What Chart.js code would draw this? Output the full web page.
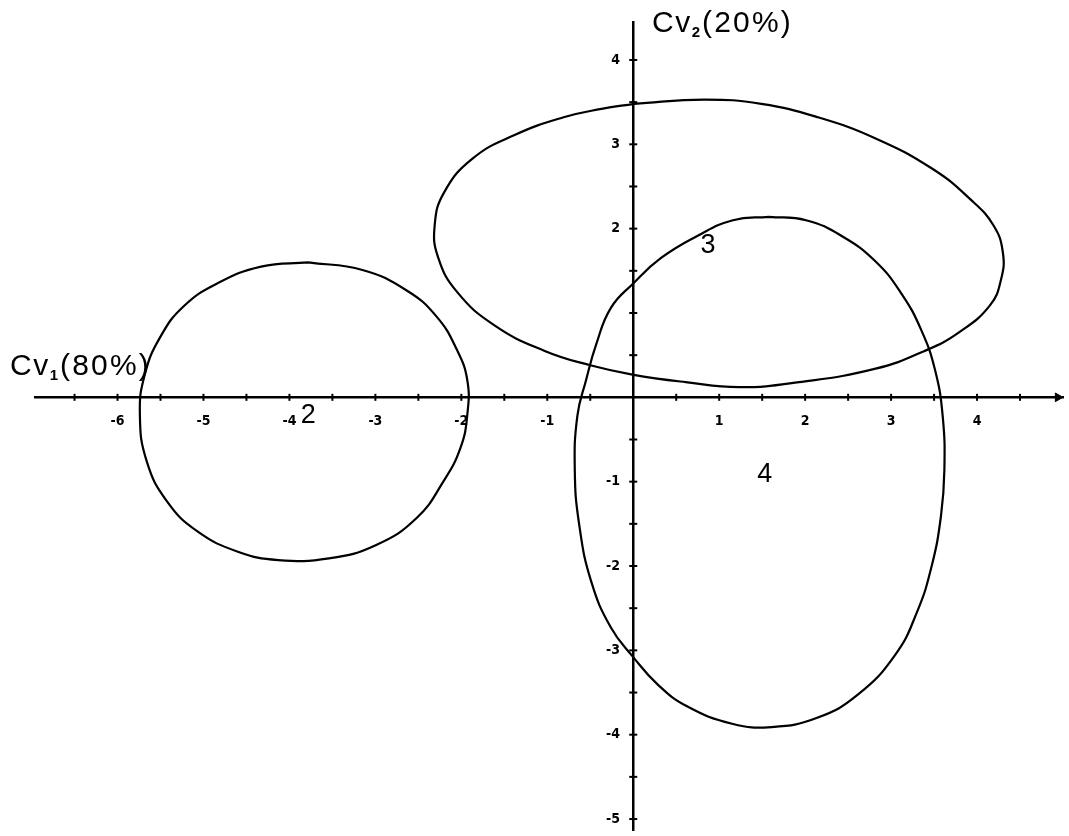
<!DOCTYPE html>
<html>
<head>
<meta charset="utf-8">
<script src="https://cdn.jsdelivr.net/npm/chart.js@4/dist/chart.umd.min.js"></script>
<style>
  body { margin: 0; background: white; }
  #wrap { width: 1069px; height: 836px; position: relative; }
</style>
</head>
<body>
<div id="wrap"><canvas id="plan"></canvas></div>
<script>
// Contours des groupes, dans le sens horaire depuis le haut
const group2X = [-3.78, -3.15, -2.64, -2.29, -2.05, -1.93, -1.93, -2.01, -2.21, -2.52, -2.99, -3.54, -4.13, -4.60, -5.07, -5.42, -5.66, -5.74, -5.68, -5.50, -5.23, -4.84, -4.33];
const group2Y = [1.60, 1.51, 1.27, 0.96, 0.56, 0.20, -0.20, -0.60, -1.00, -1.43, -1.75, -1.91, -1.93, -1.83, -1.59, -1.24, -0.76, -0.20, 0.28, 0.72, 1.08, 1.35, 1.55];

const group3X = [0.01, 0.83, 1.49, 2.15, 2.82, 3.48, 3.92, 4.19, 4.30, 4.28, 4.15, 3.79, 3.39, 2.82, 1.93, 1.23, 0.61, -0.01, -0.50, -1.03, -1.61, -2.05, -2.27, -2.31, -2.20, -1.87, -1.38, -0.81, -0.37];
const group3Y = [3.48, 3.53, 3.48, 3.32, 3.07, 2.71, 2.35, 2.04, 1.72, 1.40, 1.09, 0.77, 0.55, 0.34, 0.18, 0.12, 0.18, 0.27, 0.38, 0.55, 0.85, 1.25, 1.66, 2.04, 2.43, 2.83, 3.11, 3.32, 3.42];

const group4X = [1.58, 2.01, 2.43, 2.82, 3.12, 3.35, 3.51, 3.60, 3.62, 3.58, 3.47, 3.30, 3.05, 2.62, 2.14, 1.61, 1.15, 0.62, 0.28, 0.00, -0.26, -0.49, -0.63, -0.68, -0.65, -0.55, -0.43, -0.26, 0.00, 0.32, 0.74, 1.16];
const group4Y = [2.14, 2.10, 1.91, 1.61, 1.23, 0.80, 0.33, -0.22, -0.86, -1.41, -2.01, -2.55, -3.05, -3.52, -3.80, -3.91, -3.87, -3.66, -3.40, -3.08, -2.73, -2.18, -1.50, -0.86, -0.22, 0.20, 0.63, 1.06, 1.35, 1.65, 1.91, 2.10];

// Numéros des groupes et leur position
const groupNames = ['2', '3', '4'];
const groupLabelX = [-3.78, 0.87, 1.53];
const groupLabelY = [-0.22, 1.80, -0.92];

// Graduations des axes
const xTickLabels = [-6, -5, -4, -3, -2, -1, 1, 2, 3, 4];
const yTickLabels = [4, 3, 2, -1, -2, -3, -4, -5];
const xTickMarks = [-6.5, -6, -5.5, -5, -4.5, -4, -3.5, -3, -2.5, -2, -1.5, -1, -0.5, 0.5, 1, 1.5, 2, 2.5, 3, 3.5, 4, 4.5];
const yTickMarks = [4, 3.5, 3, 2.5, 2, 1.5, 1, 0.5, -0.5, -1, -1.5, -2, -2.5, -3, -3.5, -4, -4.5, -5];

// Titres des axes
const axis1Title = ['Cv', '1', '(80%)'];
const axis2Title = ['Cv', '2', '(20%)'];

const tickFont = { family: '"Liberation Sans Narrow", "DejaVu Sans Condensed", sans-serif', size: 14, weight: 'bold' };

function contour(xs, ys) {
    let pts = xs.map((x, i) => ({ x: x, y: ys[i] }));
    pts.push(pts[0]);
    return pts;
}

function ellipseDataset(xs, ys) {
    return {
        data: contour(xs, ys),
        showLine: true,
        tension: 0.45,
        borderColor: 'black',
        borderWidth: 2.2,
        pointRadius: 0,
        fill: false
    };
}

// les axes centrés ne doivent pas réduire la zone du graphique
function noSpace(s) {
    if (s.isHorizontal()) {
        s.height = 0;
    } else {
        s.width = 0;
    }
    s.paddingLeft = 0;
    s.paddingRight = 0;
    s.paddingTop = 0;
    s.paddingBottom = 0;
}

const textPlugin = {
    id: 'textes',
    afterDatasetsDraw(chart) {
        const ctx = chart.ctx;
        const sx = chart.scales.x;
        const sy = chart.scales.y;
        ctx.save();
        ctx.fillStyle = 'black';
        ctx.textBaseline = 'middle';
        ctx.textAlign = 'center';
        ctx.font = '27px "Liberation Sans", Arial, sans-serif';
        groupNames.forEach((n, i) => {
            ctx.fillText(n, sx.getPixelForValue(groupLabelX[i]), sy.getPixelForValue(groupLabelY[i]));
        });

        function title(parts, x, y) {
            ctx.textAlign = 'left';
            ctx.textBaseline = 'alphabetic';
            ctx.letterSpacing = '1.5px';
            ctx.font = '30px "Liberation Sans", Arial, sans-serif';
            ctx.fillText(parts[0], x, y);
            x += ctx.measureText(parts[0]).width;
            ctx.letterSpacing = '0px';
            ctx.font = 'bold 15px "Liberation Sans", Arial, sans-serif';
            ctx.fillText(parts[1], x, y + 5);
            x += ctx.measureText(parts[1]).width + 2;
            ctx.letterSpacing = '2.2px';
            ctx.font = '30px "Liberation Sans", Arial, sans-serif';
            ctx.fillText(parts[2], x, y);
        }
        title(axis1Title, 10, 375);
        title(axis2Title, 652, 32);
        ctx.restore();
    }
};

new Chart(
    document.getElementById('plan'),
    {
        type: 'scatter',
        data: {
            datasets: [
                ellipseDataset(group2X, group2Y),
                ellipseDataset(group3X, group3Y),
                ellipseDataset(group4X, group4Y),
                {
                    data: xTickMarks.map(v => ({ x: v, y: 0 })),
                    pointStyle: 'line',
                    rotation: 90,
                    pointRadius: 3.5,
                    borderColor: 'black',
                    borderWidth: 2
                },
                {
                    data: yTickMarks.map(v => ({ x: 0, y: v })),
                    pointStyle: 'line',
                    pointRadius: 4,
                    borderColor: 'black',
                    borderWidth: 2
                },
                {
                    data: [{ x: 4.94, y: 0 }],
                    pointStyle: 'triangle',
                    rotation: 90,
                    pointRadius: 5,
                    backgroundColor: 'black',
                    borderColor: 'black',
                    borderWidth: 1
                }
            ]
        },
        options: {
            responsive: true,
            maintainAspectRatio: false,
            animation: false,
            layout: {
                padding: { left: 35, right: 2, top: 22, bottom: 0 }
            },
            plugins: {
                legend: { display: false },
                tooltip: { enabled: false }
            },
            scales: {
                x: {
                    type: 'linear',
                    min: -6.96,
                    max: 5.0,
                    position: { y: 0 },
                    afterFit: noSpace,
                    border: { color: 'black', width: 2.5 },
                    grid: { drawOnChartArea: false, drawTicks: true, tickLength: 16, tickColor: 'rgba(0,0,0,0)' },
                    ticks: {
                        stepSize: 1,
                        includeBounds: false,
                        autoSkip: false,
                        maxRotation: 0,
                        padding: 0,
                        color: 'black',
                        font: tickFont,
                        callback: v => xTickLabels.includes(v) ? String(v) : ''
                    }
                },
                y: {
                    type: 'linear',
                    min: -5.13,
                    max: 4.45,
                    position: { x: 0 },
                    afterFit: noSpace,
                    border: { color: 'black', width: 2.5 },
                    grid: { drawOnChartArea: false, drawTicks: false },
                    ticks: {
                        stepSize: 1,
                        includeBounds: false,
                        autoSkip: false,
                        padding: 0,
                        color: 'black',
                        font: tickFont,
                        // étiquettes décalées à gauche de l'axe
                        callback: v => yTickLabels.includes(v) ? v + '   ' : ''
                    }
                }
            }
        },
        plugins: [textPlugin]
    }
);
</script>
</body>
</html>
